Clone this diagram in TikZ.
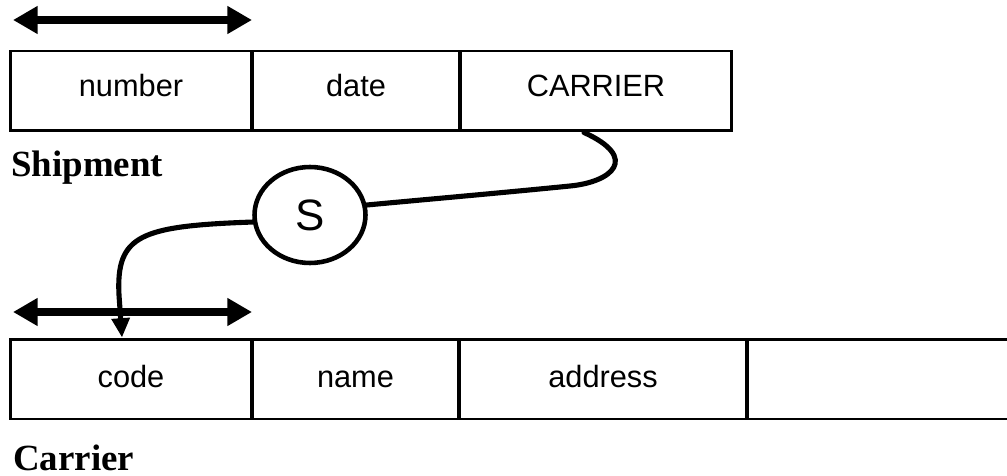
\documentclass[tikz,border=0pt]{standalone}
\usepackage{fontspec}
\setmainfont{Liberation Serif}
\newfontfamily\cellfont{Liberation Sans}
\usetikzlibrary{arrows.meta}
\usetikzlibrary{shapes.geometric}

\tikzset{
    cell/.style={draw,line width=1.7pt,minimum height=1.6cm,inner sep=0pt,text height=1.6ex,text depth=0.3ex,font=\cellfont\fontsize{17.5}{20}\selectfont},
    lowcell/.style={cell,text height=2.3ex},
    tablename/.style={anchor=base west,inner sep=0pt,font=\bfseries\fontsize{21}{24}\selectfont},
    keyarrow/.style={line width=5pt,arrows={Triangle[length=14pt,width=15pt]-Triangle[length=14pt,width=15pt]}},
    link/.style={line width=2.9pt,line cap=round}
}

\begin{document}
\begin{tikzpicture}[x=0.02cm,y=-0.02cm]
                \useasboundingbox (0,0) rectangle (1007,476);

                % Shipment
                \node[cell,minimum width=4.84cm] (number) at (131,91) {number};
                \node[cell,minimum width=4.16cm] (date) at (356,91) {date};
                \node[cell,minimum width=5.44cm] (carrier) at (596,91) {CARRIER};
                \node[tablename] (shiplabel) at (11,177) {Shipment};

                \coordinate (shipkeyl) at (13,20);
                \coordinate (shipkeyr) at (252,20);
                \draw[keyarrow] (shipkeyl) -- (shipkeyr);

                % Carrier
                \node[lowcell,minimum width=4.84cm] (code) at (131,379) {code};
                \node[lowcell,minimum width=4.14cm] (name) at (355.5,379) {name};
                \node[lowcell,minimum width=5.76cm] (address) at (603,379) {address};
                \node[lowcell,minimum width=5.66cm] (rest) at (888.5,379) {};
                \node[tablename] (carlabel) at (13,470) {Carrier};

                \coordinate (carkeyl) at (13,312);
                \coordinate (carkeyr) at (252,312);
                \draw[keyarrow] (carkeyl) -- (carkeyr);

                % relationship
                \node[draw,ellipse,line width=2.6pt,minimum width=2.22cm,minimum height=1.92cm,inner sep=0pt,font=\cellfont\fontsize{25}{28}\selectfont] (s) at (310,215) {S};

                \draw[link] ([xshift=-0.24cm]carrier.south) .. controls (640,158) and (612,182) .. (570,186)
                    .. controls (500,193) and (420,200) .. (s.10);
                \draw[link,arrows={-Triangle[length=11pt,width=10pt]}] (s.187) .. controls (140,226) and (116,235) .. (119,295)
                    -- ([xshift=-0.18cm]code.north);
\end{tikzpicture}
\end{document}
